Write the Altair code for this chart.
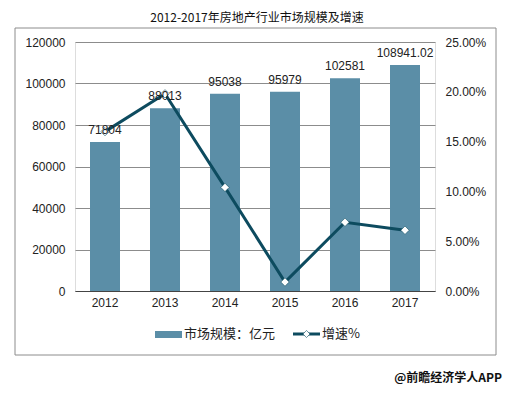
import altair as alt
import pandas as pd

years = ["2012", "2013", "2014", "2015", "2016", "2017"]
market_size = [71804, 88013, 95038, 95979, 102581, 108941.02]
market_labels = ["71804", "88013", "95038", "95979", "102581", "108941.02"]
growth = [0.160, 0.198, 0.104, 0.009, 0.069, 0.061]

title_text = "2012-2017年房地产行业市场规模及增速"
legend_bar = "市场规模：亿元"
legend_line = "增速%"
footer_text = "@前瞻经济学人APP"

BAR = "#5b8ea7"
LINE = "#0d4b5f"
FONT = "Liberation Sans, Noto Sans CJK SC"

df = pd.DataFrame({"year": years, "size": market_size, "label": market_labels, "growth": growth})
one = alt.Data(values=[{"k": 1}])

xenc = alt.X("year:N", title=None, sort=years,
             scale=alt.Scale(paddingInner=0.5, paddingOuter=0.25),
             axis=alt.Axis(labelAngle=0, labelFontSize=12, labelColor="#222", labelPadding=6,
                           ticks=False, domain=True, domainColor="#444", labelFont=FONT))

yleft = alt.Scale(domain=[0, 120000])
yright = alt.Scale(domain=[0, 0.25])

bars = alt.Chart(df).mark_bar(color=BAR).encode(
    x=xenc,
    y=alt.Y("size:Q", title=None, scale=yleft,
            axis=alt.Axis(values=[0, 20000, 40000, 60000, 80000, 100000, 120000], format="d",
                          grid=True, gridColor="#8c8c8c", domain=False, ticks=False,
                          labelPadding=10, labelFontSize=12, labelColor="#222", labelFont=FONT)),
)

line = alt.Chart(df).mark_line(color=LINE, strokeWidth=3).encode(
    x=alt.X("year:N", sort=years),
    y=alt.Y("growth:Q", title=None, scale=yright,
            axis=alt.Axis(orient="right", values=[0, 0.05, 0.10, 0.15, 0.20, 0.25], format=".2%",
                          grid=False, domain=False, ticks=False, labelPadding=10,
                          labelFontSize=12, labelColor="#222", labelFont=FONT)),
)

points = alt.Chart(df).mark_point(shape="diamond", filled=True, fill="white", stroke=LINE,
                                  strokeWidth=0.6, size=70, opacity=1).encode(
    x=alt.X("year:N", sort=years),
    y=alt.Y("growth:Q", scale=yright, axis=None),
)

labels = alt.Chart(df).mark_text(baseline="bottom", dy=-5, fontSize=12, color="#222", font=FONT).encode(
    x=alt.X("year:N", sort=years),
    y=alt.Y("size:Q", scale=yleft, axis=None),
    text="label:N",
)

border = alt.Chart(one).mark_rect(fill=None, stroke="#8c8c8c", strokeWidth=1).encode(
    x=alt.value(-60), x2=alt.value(421), y=alt.value(-14), y2=alt.value(313))

title = alt.Chart(one).mark_text(fontSize=12, color="#111", font="Noto Sans CJK SC", baseline="middle").encode(
    x=alt.value(182), y=alt.value(-24), text=alt.value(title_text))

leg_bar = alt.Chart(one).mark_rect(color=BAR).encode(
    x=alt.value(80), x2=alt.value(107), y=alt.value(289), y2=alt.value(296))
leg_bar_t = alt.Chart(one).mark_text(align="left", baseline="middle", fontSize=13, color="#222",
                                     font="Noto Sans CJK SC").encode(
    x=alt.value(109), y=alt.value(292), text=alt.value(legend_bar))
leg_line = alt.Chart(one).mark_rule(color=LINE, strokeWidth=3).encode(
    x=alt.value(218), x2=alt.value(245), y=alt.value(292))
leg_pt = alt.Chart(one).mark_point(shape="diamond", filled=True, fill="white", stroke=LINE,
                                   strokeWidth=0.6, size=50, opacity=1).encode(
    x=alt.value(231.5), y=alt.value(292))
leg_line_t = alt.Chart(one).mark_text(align="left", baseline="middle", fontSize=13, color="#222",
                                      font="Noto Sans CJK SC").encode(
    x=alt.value(247), y=alt.value(292), text=alt.value(legend_line))

footer = alt.Chart(one).mark_text(align="right", baseline="middle", fontSize=12, color="#111",
                                  fontWeight="bold", font="Noto Sans CJK SC").encode(
    x=alt.value(427), y=alt.value(336), text=alt.value(footer_text))

chart = alt.layer(
    border, bars, line, points, labels, title, leg_bar, leg_bar_t, leg_line, leg_pt, leg_line_t, footer
).resolve_scale(y="independent").properties(
    width=360, height=249,
    autosize=alt.AutoSizeParams(type="none"),
    padding={"left": 67, "top": 34, "right": 69, "bottom": 95},
).configure_view(stroke=None).configure(font=FONT, background="white")

chart.save("out.html", embed_options={"renderer": "svg", "actions": False})
